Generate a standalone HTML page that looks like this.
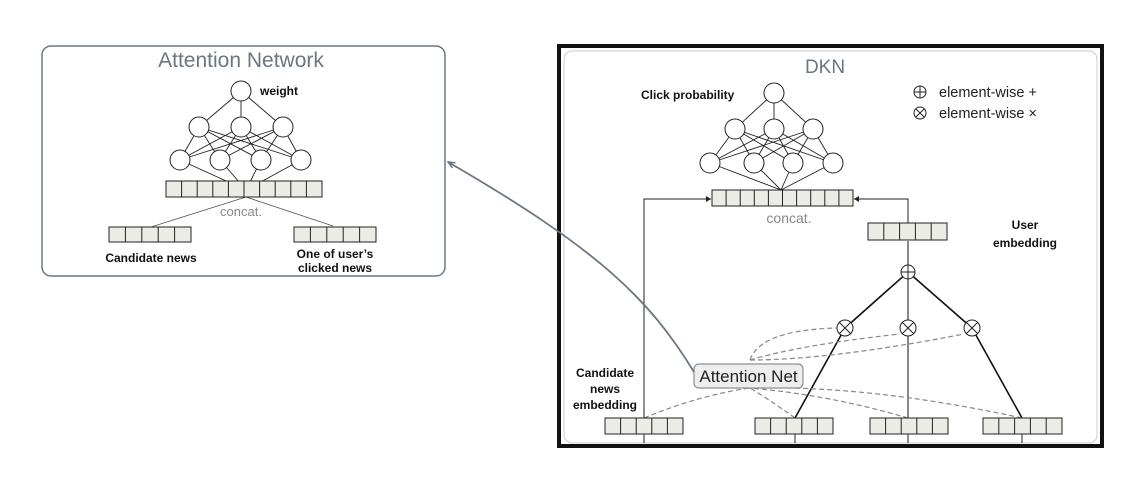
<!DOCTYPE html>
<html><head><meta charset="utf-8"><style>
body{margin:0;background:#fff;width:1145px;height:485px;overflow:hidden}
svg{display:block}
text{font-family:"Liberation Sans",sans-serif}
.b{font-weight:bold;font-size:12px;fill:#111}
</style></head><body>
<svg width="1145" height="485" viewBox="0 0 1145 485">
<defs>
<marker id="a" markerWidth="8" markerHeight="8" refX="7" refY="4" orient="auto" markerUnits="userSpaceOnUse"><path d="M0,1 L7,4 L0,7" fill="none" stroke="#6b7682" stroke-width="1.5"/></marker>
<marker id="k" markerWidth="6" markerHeight="6" refX="5" refY="3" orient="auto" markerUnits="userSpaceOnUse"><path d="M0,0 L5,3 L0,6z" fill="#222"/></marker>
</defs>
<rect x="42" y="46" width="403" height="230" rx="9" fill="#fff" stroke="#6b7682" stroke-width="1.5"/>
<text x="241" y="67" font-size="21" fill="#6b7682" text-anchor="middle">Attention Network</text>
<g stroke="#222" stroke-width="0.9" fill="none">
<path d="M241,91 L199,127 M241,91 L241,127 M241,91 L283,127"/>
<path d="M199,127 L180,160 M199,127 L220,160 M199,127 L261,160 M199,127 L301,160 M241,127 L180,160 M241,127 L220,160 M241,127 L261,160 M241,127 L301,160 M283,127 L180,160 M283,127 L220,160 M283,127 L261,160 M283,127 L301,160"/>
<path d="M180,160 L246,190 M220,160 L246,190 M261,160 L246,190 M301,160 L246,190"/>
<path d="M246,197 L151,227 M246,197 L333,226" stroke="#555"/>
</g>
<g fill="#fff" stroke="#222" stroke-width="1">
<circle cx="241" cy="91" r="10"/><circle cx="199" cy="127" r="10"/><circle cx="241" cy="127" r="10"/><circle cx="283" cy="127" r="10"/>
<circle cx="180" cy="160" r="10"/><circle cx="220" cy="160" r="10"/><circle cx="261" cy="160" r="10"/><circle cx="301" cy="160" r="10"/>
</g>
<text x="260" y="95" class="b" font-size="15">weight</text>
<rect x="166" y="181" width="156" height="16" fill="#ececE6" stroke="#222"/>
<path d="M181.6,181v16M197.2,181v16M212.8,181v16M228.4,181v16M244,181v16M259.6,181v16M275.2,181v16M290.8,181v16M306.4,181v16" stroke="#222"/>
<text x="241" y="216" font-size="13" fill="#888" text-anchor="middle">concat.</text>
<rect x="109" y="227" width="82" height="15" fill="#ececE6" stroke="#222"/>
<path d="M125.4,227v15M141.8,227v15M158.2,227v15M174.6,227v15" stroke="#222"/>
<rect x="294" y="227" width="82" height="15" fill="#ececE6" stroke="#222"/>
<path d="M310.4,227v15M326.8,227v15M343.2,227v15M359.6,227v15" stroke="#222"/>
<text x="151" y="262" class="b" text-anchor="middle">Candidate news</text>
<text x="335" y="258" class="b" text-anchor="middle">One of user’s</text>
<text x="335" y="272" class="b" text-anchor="middle">clicked news</text>

<rect x="559" y="46" width="543" height="400" fill="#fff" stroke="#111" stroke-width="4"/>
<rect x="564" y="51" width="533" height="392" rx="8" fill="none" stroke="#ccc" stroke-width="1"/>
<text x="825" y="73" font-size="19" fill="#6b7682" text-anchor="middle">DKN</text>
<text x="641" y="99" class="b" font-size="14">Click probability</text>
<g stroke="#222" stroke-width="1" fill="#fff">
<circle cx="920" cy="92" r="6"/><path d="M914,92h12M920,86v12"/>
<circle cx="920" cy="113" r="6"/><path d="M916,109l8,8M924,109l-8,8"/>
</g>
<text x="939" y="97" font-size="14.5" fill="#222">element-wise +</text>
<text x="939" y="118" font-size="14.5" fill="#222">element-wise ×</text>
<g stroke="#222" stroke-width="0.9" fill="none">
<path d="M774,93 L735,129 M774,93 L774,129 M774,93 L813,129"/>
<path d="M735,129 L710,163 M735,129 L754,163 M735,129 L793,163 M735,129 L833,163 M774,129 L710,163 M774,129 L754,163 M774,129 L793,163 M774,129 L833,163 M813,129 L710,163 M813,129 L754,163 M813,129 L793,163 M813,129 L833,163"/>
<path d="M710,163 L781,190 M754,163 L781,190 M793,163 L781,190 M833,163 L781,190"/>
</g>
<g fill="#fff" stroke="#222" stroke-width="1">
<circle cx="774" cy="93" r="10"/><circle cx="735" cy="129" r="10"/><circle cx="774" cy="129" r="10"/><circle cx="813" cy="129" r="10"/>
<circle cx="710" cy="163" r="10"/><circle cx="754" cy="163" r="10"/><circle cx="793" cy="163" r="10"/><circle cx="833" cy="163" r="10"/>
</g>
<rect x="712" y="190" width="141" height="16" fill="#ececE6" stroke="#222"/>
<path d="M726.1,190v16M740.2,190v16M754.3,190v16M768.4,190v16M782.5,190v16M796.6,190v16M810.7,190v16M824.8,190v16M838.9,190v16" stroke="#222"/>
<text x="789" y="223" font-size="14" fill="#888" text-anchor="middle">concat.</text>
<path d="M644,432 V199 H711" stroke="#222" fill="none" marker-end="url(#k)"/>
<path d="M908,223 V199 H854" stroke="#222" fill="none" marker-end="url(#k)"/>
<rect x="868" y="223" width="79" height="17" fill="#ececE6" stroke="#222"/>
<path d="M883.8,223v17M899.6,223v17M915.4,223v17M931.2,223v17" stroke="#222"/>
<text x="1025" y="229" class="b" font-size="15" text-anchor="middle">User</text>
<text x="1025" y="247" class="b" font-size="15" text-anchor="middle">embedding</text>
<g stroke="#111" stroke-width="1.6" fill="none">
<path d="M845,328 L908,272 M972,328 L908,272"/>
<path d="M845,328 L795,418 M972,328 L1022,418"/>
</g>
<path d="M908,418 V336 M908,320 V279 M908,265 V241" stroke="#111" stroke-width="1"/>
<g stroke="#222" stroke-width="1" fill="#fff">
<circle cx="908" cy="272" r="7"/><path d="M901,272h14M908,265v14"/>
<circle cx="845" cy="328" r="8"/><path d="M839,322l12,12M851,322l-12,12"/>
<circle cx="908" cy="328" r="8"/><path d="M902,322l12,12M914,322l-12,12"/>
<circle cx="972" cy="328" r="8"/><path d="M966,322l12,12M978,322l-12,12"/>
</g>
<g stroke="#888" stroke-width="1.2" fill="none" stroke-dasharray="5,3">
<path d="M644,418 Q700,395 750,388"/>
<path d="M795,418 Q770,400 750,388"/>
<path d="M908,418 Q830,395 750,388"/>
<path d="M1022,418 Q870,385 750,388"/>
<path d="M750,360 Q760,330 837,328"/>
<path d="M750,360 Q800,345 900,334"/>
<path d="M750,360 Q830,360 964,334"/>
</g>
<rect x="694" y="364" width="109" height="24" rx="5" fill="#eeeeee" stroke="#8a9098" stroke-width="1.2"/>
<text x="748.5" y="382" font-size="17" fill="#222" text-anchor="middle">Attention Net</text>
<text x="605" y="377" class="b" font-size="14" text-anchor="middle">Candidate</text>
<text x="605" y="393" class="b" font-size="14" text-anchor="middle">news</text>
<text x="605" y="409" class="b" font-size="14" text-anchor="middle">embedding</text>
<g fill="#ececE6" stroke="#222">
<rect x="605" y="418" width="78" height="16"/><rect x="755" y="418" width="78" height="16"/><rect x="870" y="418" width="78" height="16"/><rect x="983" y="418" width="79" height="16"/>
</g>
<path d="M620.6,418v16M636.2,418v16M651.8,418v16M667.4,418v16 M770.6,418v16M786.2,418v16M801.8,418v16M817.4,418v16 M885.6,418v16M901.2,418v16M916.8,418v16M932.4,418v16 M998.8,418v16M1014.6,418v16M1030.4,418v16M1046.2,418v16" stroke="#222"/>
<g stroke="#222"><path d="M644,443v-9M795,443v-9M908,443v-9M1022,443v-9"/></g>
<path d="M694,372 C650,300 600,250 448,162" stroke="#6b7682" stroke-width="1.8" fill="none" marker-end="url(#a)"/>
</svg>
</body></html>
